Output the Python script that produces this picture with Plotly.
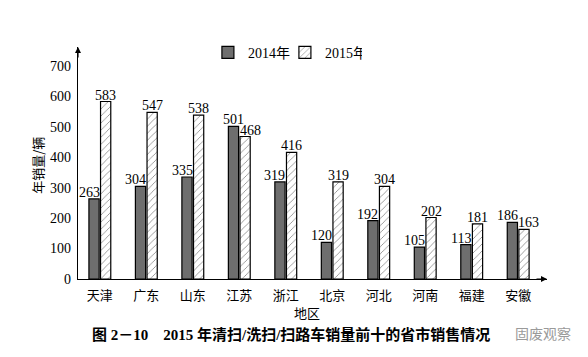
import plotly.graph_objects as go

regions = ["天津", "广东", "山东", "江苏", "浙江", "北京", "河北", "河南", "福建", "安徽"]
sales_2014 = [263, 304, 335, 501, 319, 120, 192, 105, 113, 186]
sales_2015 = [583, 547, 538, 468, 416, 319, 304, 202, 181, 163]
y_ticks = [0, 100, 200, 300, 400, 500, 600, 700]

FONT = "Liberation Serif, Times New Roman, Noto Sans CJK SC, serif"
CJK = "Noto Sans CJK SC"

fig = go.Figure()
fig.add_trace(go.Bar(
    name="2014年", x=regions, y=sales_2014,
    marker=dict(color="#6e6e6e", line=dict(color="black", width=1.2)),
))
fig.add_trace(go.Bar(
    name="2015年", x=regions, y=sales_2015,
    marker=dict(color="white", line=dict(color="black", width=1.2),
                pattern=dict(shape="/", fgcolor="black", bgcolor="white", size=5, solidity=0.15)),
))

fig.update_layout(
    width=580, height=349,
    margin=dict(l=70, r=41, t=39, b=78),
    paper_bgcolor="white", plot_bgcolor="white",
    barmode="group", bargap=0.5, bargroupgap=0.12,
    font=dict(family=FONT, size=13, color="black"),
    showlegend=True,
    legend=dict(orientation="h", x=0.277, xanchor="left", y=0.975, yanchor="middle",
                font=dict(family=FONT, size=14), bgcolor="rgba(0,0,0,0)",
                itemwidth=30, entrywidth=32, entrywidthmode="pixels"),
    xaxis=dict(range=[-0.47, 9.62], showline=True, linecolor="black", linewidth=1.2,
               ticks="", showgrid=False, zeroline=False, ticklabelstandoff=4,
               tickfont=dict(family=CJK, size=13)),
    yaxis=dict(range=[0, 762], tickvals=y_ticks, showline=True, linecolor="black", linewidth=1.2,
               ticks="", showgrid=False, zeroline=False, ticklabelstandoff=3,
               tickfont=dict(family=FONT, size=14)),
)

# value labels: centred over each bar; the shorter bar's label steps aside,
# and when the two values are very close the taller one's label steps aside too
BAR_OFF = 5.8   # px from category centre to each bar centre
STEP = 5        # px sideways step
CLOSE = 30      # values closer than this push both labels apart
for r, a, b in zip(regions, sales_2014, sales_2015):
    if b >= a:
        shift_a = -BAR_OFF - STEP
        shift_b = BAR_OFF + (STEP if b - a < CLOSE else 0)
    else:
        shift_b = BAR_OFF + STEP
        shift_a = -BAR_OFF - (STEP if a - b < CLOSE else 0)
    for val, sh in ((a, shift_a), (b, shift_b)):
        fig.add_annotation(x=r, y=val, xref="x", yref="y", text=str(val), showarrow=False,
                           xanchor="center", yanchor="bottom", xshift=sh, yshift=-3,
                           font=dict(family=FONT, size=14, color="black"))

# axis arrows
fig.add_annotation(xref="paper", yref="paper", x=0, y=1.0, ax=0, ay=12, showarrow=True,
                   arrowhead=2, arrowsize=1, arrowwidth=1.2, arrowcolor="black", text="")
fig.add_annotation(xref="paper", yref="paper", x=1.0, y=0, ax=-12, ay=0, showarrow=True,
                   arrowhead=2, arrowsize=1, arrowwidth=1.2, arrowcolor="black", text="")

# axis titles
fig.add_annotation(xref="paper", yref="paper", x=-0.088, y=0.491, text="年销量/辆", textangle=-90,
                   xanchor="center", yanchor="middle",
                   showarrow=False, font=dict(family=CJK, size=13))
fig.add_annotation(xref="paper", yref="paper", x=0.488, y=-0.145, text="地区",
                   xanchor="center", yanchor="middle",
                   showarrow=False, font=dict(family=CJK, size=13))

# caption
fig.add_annotation(xref="paper", yref="paper", x=0.454, y=-0.241,
                   text="<b>图 2－10　2015 年清扫/洗扫/扫路车销量前十的省市销售情况</b>",
                   xanchor="center", yanchor="middle",
                   showarrow=False, font=dict(family="Liberation Serif, Noto Sans CJK SC", size=15))
fig.add_annotation(xref="paper", yref="paper", x=0.991, y=-0.233, text="固废观察",
                   xanchor="center", yanchor="middle",
                   showarrow=False, font=dict(family=CJK, size=14, color="#9a9a9a"))

fig.write_html("out.html")
